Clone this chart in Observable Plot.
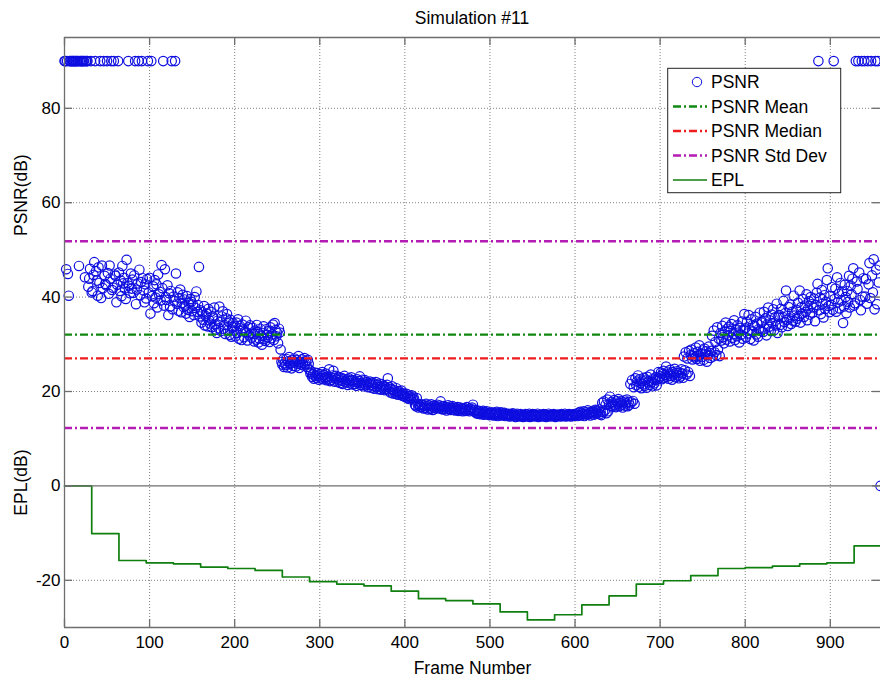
<!DOCTYPE html>
<html><head><meta charset="utf-8">
<script src="https://cdn.jsdelivr.net/npm/d3@7"></script>
<script src="https://cdn.jsdelivr.net/npm/@observablehq/plot@0.6"></script>
<style>
body{margin:0;background:#fff;font-family:"Liberation Sans",Arial,sans-serif;}
#title{height:36px;line-height:36px;width:816px;margin-left:64px;text-align:center;font-size:17.5px;color:#000;}
</style></head><body>
<div id="title">Simulation #11</div>
<div id="chart"></div>
<script>
// PSNR per frame (frame = index), 90 = identical frame cap
const psnr = [
90,90,45.9,90,44.9,40.3,90,90,90,90,90,90,90,90,90,90,90,46.6,90,90,
90,90,90,90,44.2,90,90,90,42.2,43.9,46.0,90,41.0,41.3,44.7,47.4,90,45.5,43.5,40.3,
46.3,43.0,90,39.8,46.7,41.9,90,44.5,42.8,42.5,90,45.1,40.7,46.7,43.9,90,41.5,42.0,90,44.8,
44.5,38.9,42.6,90,45.2,41.3,43.5,40.2,46.6,42.9,44.1,41.8,39.6,47.9,43.0,90,42.4,40.8,45.0,41.8,
43.7,40.9,44.6,90,38.5,41.6,42.9,90,45.8,40.4,43.2,90,44.0,41.4,38.9,42.7,39.7,43.8,90,41.0,
44.1,36.5,90,40.2,42.3,38.7,43.6,39.9,42.7,37.8,44.8,40.6,41.1,39.3,46.8,41.9,90,38.2,45.9,40.0,
39.4,42.5,36.2,40.8,38.0,41.3,90,37.4,40.1,39.2,90,45.0,38.6,41.0,37.1,39.8,41.6,36.8,38.7,40.5,
37.9,39.5,38.1,36.5,40.2,37.3,38.8,35.8,39.6,39.0,37.0,38.4,36.2,40.0,37.7,41.2,36.9,38.3,46.4,35.9,
37.2,34.6,36.8,35.2,38.1,34.0,36.0,36.5,33.8,37.5,35.1,34.4,36.9,33.6,35.9,35.5,37.8,34.2,33.1,32.4,
35.0,33.4,38.0,34.7,32.8,35.9,37.0,33.3,34.1,32.2,35.5,36.4,33.0,34.8,32.0,35.2,31.6,33.7,34.5,32.9,
33.9,31.7,34.6,32.4,35.3,31.2,33.9,32.8,30.9,34.2,33.1,31.5,32.7,35.0,32.5,30.8,33.6,31.9,34.0,32.3,
31.4,33.5,32.2,30.6,32.9,31.0,34.1,32.6,30.4,31.2,33.3,31.8,29.9,32.4,33.8,31.1,30.7,33.2,32.0,31.5,
32.8,30.5,33.6,31.3,32.1,34.2,30.9,34.5,33.0,31.7,32.4,30.2,33.3,32.5,28.9,26.3,25.7,26.8,25.2,26.0,
25.6,26.9,25.1,26.4,27.3,25.8,26.1,24.9,26.6,25.4,27.0,26.2,25.3,26.7,25.9,27.5,25.0,26.3,25.7,26.8,
26.0,25.5,27.1,25.8,26.4,25.2,26.7,25.9,24.6,23.8,24.2,23.1,23.6,22.7,24.0,23.3,22.9,23.9,23.4,22.5,
23.7,22.8,23.2,24.1,22.6,23.5,22.9,23.8,22.4,23.1,22.7,24.7,22.2,23.0,22.5,23.4,24.4,22.1,22.9,23.3,
22.6,22.0,23.1,22.4,21.8,22.9,22.3,21.6,22.7,23.3,22.1,21.9,22.5,21.4,22.8,22.2,21.7,23.0,22.4,21.5,
22.3,21.6,22.0,21.2,22.6,21.8,22.2,23.2,21.4,21.9,22.5,21.1,21.7,22.4,21.3,22.0,21.5,20.9,21.8,22.1,
21.4,20.8,21.9,21.1,20.6,21.6,22.0,20.9,21.3,20.5,21.7,21.0,20.4,21.5,20.7,21.2,20.3,21.0,20.6,21.4,
22.8,20.2,20.9,19.8,20.5,21.1,19.6,20.3,20.0,19.5,20.7,19.9,19.3,20.1,19.7,19.4,20.2,19.1,19.6,19.0,
19.3,18.8,19.5,18.6,19.1,18.4,19.0,18.7,19.2,18.5,18.9,18.3,17.2,16.9,18.6,17.4,16.6,17.1,16.8,17.3,
16.7,17.2,16.4,17.0,16.5,17.4,16.9,16.2,17.1,16.6,16.3,17.3,16.8,16.1,17.0,16.5,16.9,16.4,17.2,16.6,
16.5,17.0,17.9,16.3,16.8,16.2,16.9,16.4,16.7,16.0,16.6,17.1,16.3,16.8,16.1,16.5,16.9,16.2,16.6,16.0,
16.4,16.1,16.7,15.9,16.3,16.6,16.0,16.4,15.8,16.2,16.5,15.9,16.3,16.7,16.0,16.2,15.8,16.4,16.1,16.6,
17.2,16.0,15.7,16.1,15.4,15.8,15.3,15.9,15.5,15.2,15.7,15.4,15.9,15.1,15.6,15.3,15.8,15.2,15.5,15.0,
15.4,15.1,15.6,15.2,14.9,15.5,15.0,15.3,15.7,14.8,15.2,15.4,15.0,15.6,14.9,15.3,15.1,15.5,14.8,15.2,
15.1,14.9,15.3,14.7,15.0,15.2,14.8,15.4,14.9,15.1,14.6,15.0,15.3,14.8,15.1,14.7,15.2,14.9,15.0,14.6,
15.0,14.8,15.2,14.7,15.1,14.9,15.3,14.6,15.0,14.8,15.2,14.9,14.7,15.1,15.0,14.8,15.3,14.6,14.9,15.1,
14.8,15.0,14.7,15.2,14.9,15.1,14.6,15.0,14.8,15.3,14.9,14.7,15.1,15.0,14.8,15.2,14.9,14.6,15.0,14.8,
15.1,14.9,15.0,14.7,15.2,14.8,15.0,14.9,15.3,14.7,15.1,14.8,15.0,15.2,14.9,14.7,15.1,15.0,14.8,15.2,
14.9,15.1,15.3,14.8,15.5,15.0,15.7,14.9,15.4,15.2,15.8,14.8,15.3,15.6,15.1,16.0,15.2,15.5,14.9,15.7,
15.4,15.9,15.1,15.6,16.1,15.3,15.8,15.5,16.2,15.2,15.7,15.0,17.6,15.6,17.9,16.0,17.2,15.4,18.3,15.8,
17.3,18.9,17.0,17.8,16.8,17.5,18.2,17.1,16.7,17.9,17.4,18.4,16.9,17.6,18.0,17.2,16.6,17.7,18.1,17.0,
17.5,18.3,16.9,17.8,17.2,21.6,17.7,22.4,18.0,20.9,17.4,22.8,21.3,22.1,23.4,21.0,22.6,21.8,20.7,22.3,
21.5,22.9,21.2,22.5,20.8,23.1,21.9,22.2,21.4,23.6,22.0,21.1,22.7,21.7,22.4,23.0,21.3,22.6,24.1,22.8,
23.2,24.0,22.6,23.7,24.4,22.9,23.5,25.3,23.1,24.2,22.7,23.8,24.6,23.3,22.5,24.1,23.6,24.8,23.0,23.9,
24.3,23.4,22.8,24.0,23.2,24.7,23.8,22.9,27.4,24.5,28.3,23.6,27.0,24.1,28.6,23.3,27.7,28.9,26.8,27.5,
28.1,27.2,29.3,26.9,28.4,27.6,29.8,26.5,28.0,27.3,28.7,26.7,29.1,27.9,28.5,26.3,27.8,29.5,28.2,27.1,
28.6,31.8,27.4,32.9,28.3,30.5,27.7,33.6,28.9,31.2,27.5,32.4,30.8,33.9,31.5,30.2,32.7,34.6,31.0,33.3,
31.9,33.7,30.6,32.8,34.3,31.4,32.2,35.1,30.9,33.0,31.7,34.0,32.5,30.4,33.5,32.0,34.8,31.2,33.1,36.4,
33.4,31.5,34.7,32.3,36.2,33.0,31.1,35.3,32.7,34.1,30.8,33.8,35.8,32.1,34.4,31.6,33.2,36.7,32.9,34.6,
34.8,32.6,36.9,33.3,35.5,31.9,34.2,37.8,33.7,35.1,32.8,36.3,34.5,37.4,33.0,35.7,34.0,38.6,32.4,35.9,
36.2,34.1,37.5,33.6,35.8,39.2,34.7,36.6,41.4,35.2,33.9,37.9,35.5,38.4,34.3,36.9,35.0,40.3,36.1,34.8,
37.3,35.4,38.8,36.0,41.4,34.6,37.9,36.5,39.6,35.8,38.2,36.9,40.6,35.1,37.6,39.1,36.3,40.0,38.5,36.7,
37.8,39.7,34.9,38.3,40.9,42.8,90,37.2,39.9,36.4,41.5,38.6,35.7,40.4,37.5,39.0,43.6,46.1,38.1,36.8,
40.2,38.4,42.1,37.3,90,39.6,41.8,36.9,44.2,38.9,40.7,37.6,43.0,39.3,41.2,34.5,38.0,42.6,40.0,36.6,
41.3,39.0,44.5,37.8,42.4,40.6,43.9,46.1,38.2,38.7,90,43.3,41.7,90,45.2,39.4,37.2,90,40.1,44.0,
90,40.1,43.8,38.6,90,42.7,47.2,39.8,90,44.6,41.0,48.0,37.4,90,45.8,38.5,90,43.1,46.7,0
];

// PSNR statistics
const psnrMean = 32.05;
const psnrMedian = 27.0;
const psnrStd = 19.78;

// EPL step function: start frame of each step and its level (dB)
const eplFrames = [0,32,64,96,128,160,192,224,256,288,320,352,384,416,448,480,512,544,576,608,640,672,704,736,768,800,832,864,896,928,959];
const eplValues = [0,-10.1,-15.8,-16.3,-16.5,-17.2,-17.5,-17.9,-19.3,-20.3,-20.8,-21.2,-22.3,-23.9,-24.3,-25.0,-26.7,-28.4,-27.3,-25.2,-23.3,-20.8,-20.1,-19.0,-17.5,-17.3,-17.0,-16.5,-16.3,-12.7,-12.7];

// Axis ticks and labels
const xTicks = [0,100,200,300,400,500,600,700,800,900];
const yTicks = [-20,0,20,40,60,80];
const xDomain = [0, 959];
const yDomain = [-30, 95];
const xLabel = "Frame Number";
const yLabels = [{t:"PSNR(dB)", v:61.6}, {t:"EPL(dB)", v:0.7}];
const legendItems = ["PSNR","PSNR Mean","PSNR Median","PSNR Std Dev","EPL"];

const W = 880, H = 645, mL = 64, mR = 0, mT = 1, mB = 54;
const plotH = H - mT - mB, plotW = W - mL - mR, tk = 8;
const axisCol = "#6e6e6e", gridCol = "#808080";
const cBlue = "#0e0ee0", cGreen = "#118811", cRed = "#ee1c1c", cMag = "#b41cb4", cEpl = "#0f7f0f";
const dashDot = "8,3,2,3";

const pts = psnr.map((v, i) => ({frame: i, v}));
const epl = eplFrames.map((f, i) => ({frame: f, v: eplValues[i]}));
const fmt = d => String(d);
const fontFam = '"Liberation Sans", Arial, sans-serif';

const chart = Plot.plot({
  width: W, height: H, marginLeft: mL, marginRight: mR, marginTop: mT, marginBottom: mB,
  style: {fontFamily: fontFam, fontSize: "17px", color: "#000", background: "#fff", overflow: "visible"},
  x: {domain: xDomain, label: null},
  y: {domain: yDomain, label: null},
  marks: [
    Plot.ruleX(xTicks.filter(d => d > 0), {x: d => d, stroke: gridCol, strokeDasharray: "1,2", strokeWidth: 1}),
    Plot.ruleY(yTicks.filter(d => d !== 0), {y: d => d, stroke: gridCol, strokeDasharray: "1,2", strokeWidth: 1}),
    Plot.dot(pts, {x: "frame", y: "v", r: 4.7, stroke: cBlue, strokeWidth: 1.2, fill: "none"}),
    Plot.ruleY([psnrMean], {stroke: cGreen, strokeWidth: 2.3, strokeDasharray: dashDot}),
    Plot.ruleY([psnrMedian], {stroke: cRed, strokeWidth: 2.3, strokeDasharray: dashDot}),
    Plot.ruleY([psnrMean + psnrStd, psnrMean - psnrStd], {stroke: cMag, strokeWidth: 2.3, strokeDasharray: dashDot}),
    Plot.line(epl, {x: "frame", y: "v", curve: "step-after", stroke: cEpl, strokeWidth: 1.7}),
    Plot.ruleY([0], {stroke: axisCol, strokeWidth: 1.3}),
    Plot.ruleX([xDomain[0]], {stroke: axisCol, strokeWidth: 1.3}),
    Plot.ruleY(yDomain, {stroke: axisCol, strokeWidth: 1.3}),
    Plot.tickX(xTicks, {x: d => d, insetTop: plotH - tk, stroke: axisCol, strokeWidth: 1.3}),
    Plot.tickX(xTicks, {x: d => d, insetBottom: plotH - tk, stroke: axisCol, strokeWidth: 1.3}),
    Plot.tickY(yTicks, {y: d => d, insetRight: plotW - tk, stroke: axisCol, strokeWidth: 1.3}),
    Plot.tickY(yTicks, {y: d => d, insetLeft: plotW - tk, stroke: axisCol, strokeWidth: 1.3}),
    Plot.axisX({ticks: xTicks, tickSize: 0, tickPadding: 8, tickFormat: fmt, fontSize: 17, label: null}),
    Plot.axisY({ticks: yTicks, tickSize: 0, tickPadding: 4, tickFormat: fmt, fontSize: 17, label: null}),
    Plot.text([xLabel], {text: d => d, frameAnchor: "bottom", dy: 46, fontSize: 17.5, textAnchor: "middle"}),
    Plot.text(yLabels, {y: "v", text: "t", frameAnchor: "left", dx: -43.3, rotate: -90, fontSize: 17.5, textAnchor: "middle"})
  ]
});

// Legend box inside plot (upper right)
const svg = d3.select(chart);
const lg = svg.append("g").attr("font-family", fontFam).attr("font-size", 17.5).attr("text-anchor", "start");
const bx = 667.7, by = 32.3, bw = 173, bh = 124.4;
lg.append("rect").attr("x", bx).attr("y", by).attr("width", bw).attr("height", bh)
  .attr("fill", "#fff").attr("stroke", "#222").attr("stroke-width", 1);
const styles = [
  {type: "dot", c: cBlue},
  {type: "line", c: cGreen, dash: dashDot, w: 2.3},
  {type: "line", c: cRed, dash: dashDot, w: 2.3},
  {type: "line", c: cMag, dash: dashDot, w: 2.3},
  {type: "line", c: cEpl, dash: null, w: 1.7}
];
legendItems.forEach((name, i) => {
  const cy = 46 + i * 24.5;
  const s = styles[i];
  if (s.type === "dot") {
    lg.append("circle").attr("cx", 697).attr("cy", cy).attr("r", 4.7)
      .attr("fill", "none").attr("stroke", s.c).attr("stroke-width", 1);
  } else {
    const l = lg.append("line").attr("x1", 673).attr("x2", 707).attr("y1", cy).attr("y2", cy)
      .attr("stroke", s.c).attr("stroke-width", s.w);
    if (s.dash) l.attr("stroke-dasharray", s.dash);
  }
  lg.append("text").attr("x", 711).attr("y", cy).attr("dy", "0.36em")
    .attr("text-anchor", "start").attr("fill", "#000").text(name);
});

document.getElementById("chart").appendChild(chart);
</script>
</body></html>
